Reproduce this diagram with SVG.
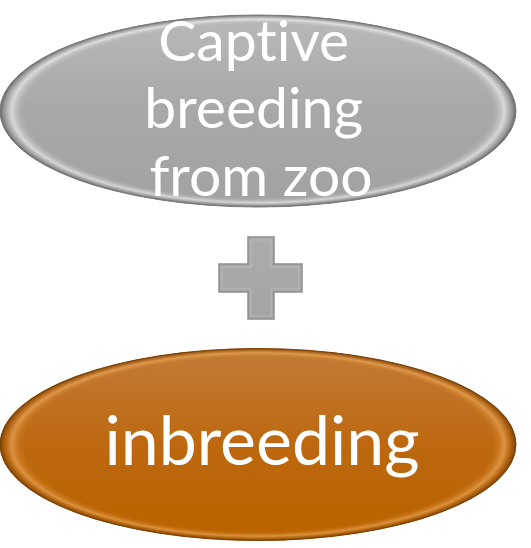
<svg xmlns="http://www.w3.org/2000/svg" width="531" height="548" viewBox="0 0 531 548">
  <defs>
    <radialGradient id="rimGray" cx="0.5" cy="0.5" r="0.5">
      <stop offset="0" stop-color="#a9a9a9" stop-opacity="0"/>
      <stop offset="0.9" stop-color="#a9a9a9" stop-opacity="0"/>
      <stop offset="0.955" stop-color="#ffffff" stop-opacity="0.55"/>
      <stop offset="0.985" stop-color="#8a8a8a" stop-opacity="0.6"/>
      <stop offset="1" stop-color="#5a5a5a" stop-opacity="0.9"/>
    </radialGradient>
    <linearGradient id="fillGray" x1="0" y1="0" x2="0" y2="1">
      <stop offset="0" stop-color="#b9b9b9"/>
      <stop offset="0.5" stop-color="#a8a8a8"/>
      <stop offset="1" stop-color="#a2a2a2"/>
    </linearGradient>
    <radialGradient id="rimOrange" cx="0.5" cy="0.5" r="0.5">
      <stop offset="0" stop-color="#c06a10" stop-opacity="0"/>
      <stop offset="0.9" stop-color="#c06a10" stop-opacity="0"/>
      <stop offset="0.955" stop-color="#f3b060" stop-opacity="0.6"/>
      <stop offset="0.985" stop-color="#9a5208" stop-opacity="0.6"/>
      <stop offset="1" stop-color="#6a3a08" stop-opacity="0.9"/>
    </radialGradient>
    <linearGradient id="fillOrange" x1="0" y1="0" x2="0" y2="1">
      <stop offset="0" stop-color="#c27c3a"/>
      <stop offset="0.5" stop-color="#bd680f"/>
      <stop offset="1" stop-color="#b96300"/>
    </linearGradient>
    <linearGradient id="plusFill" x1="0" y1="0" x2="0" y2="1">
      <stop offset="0" stop-color="#acacac"/>
      <stop offset="1" stop-color="#a4a4a4"/>
    </linearGradient>
  </defs>
  <style>
    .label { font-family: Lato, "Open Sans", "Liberation Sans", sans-serif; fill: #ffffff; text-anchor: middle; font-variant-ligatures: none; }
  </style>

  <g id="node-captive">
    <ellipse cx="258" cy="111" rx="258" ry="96" fill="url(#fillGray)"/>
    <ellipse cx="258" cy="111" rx="258" ry="96" fill="url(#rimGray)" stroke="#7a7a7a" stroke-width="1"/>
    <text class="label" font-size="57">
      <tspan x="261" y="61">Captive</tspan>
      <tspan x="261" y="128">breeding</tspan>
      <tspan x="261" y="196">from zoo</tspan>
    </text>
  </g>

  <g id="plus">
    <path d="M248 237 H274 V264 H302 V292 H274 V319 H248 V292 H219 V264 H248 Z" fill="url(#plusFill)" stroke="#8e8e8e" stroke-width="1.5"/>
    <path d="M251 240 H271 V267 H299 V289 H271 V316 H251 V289 H222 V267 H251 Z" fill="none" stroke="#b8b8b8" stroke-width="1"/>
  </g>

  <g id="node-inbreeding">
    <ellipse cx="258" cy="444.5" rx="258" ry="96" fill="url(#fillOrange)"/>
    <ellipse cx="258" cy="444.5" rx="258" ry="96" fill="url(#rimOrange)" stroke="#7a4206" stroke-width="1"/>
    <text class="label" font-size="68" x="262" y="465">inbreeding</text>
  </g>
</svg>
